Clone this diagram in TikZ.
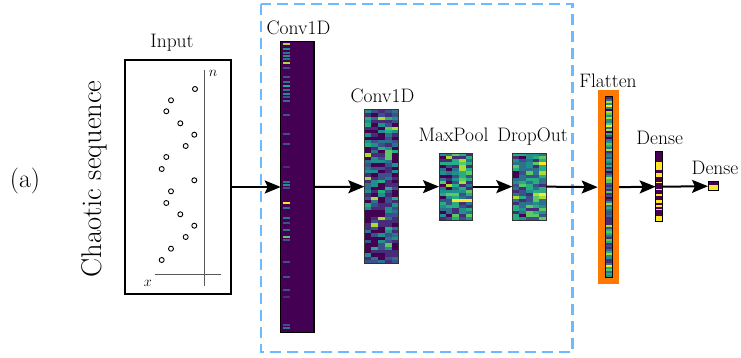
\documentclass[tikz,border=0pt]{standalone}
\usetikzlibrary{arrows.meta}
\definecolor{v0}{RGB}{68,1,84}
\definecolor{v1}{RGB}{71,44,122}
\definecolor{v2}{RGB}{59,81,139}
\definecolor{v3}{RGB}{44,113,142}
\definecolor{v4}{RGB}{33,144,141}
\definecolor{v5}{RGB}{39,173,129}
\definecolor{v6}{RGB}{92,200,99}
\definecolor{v7}{RGB}{170,220,50}
\definecolor{v8}{RGB}{253,231,37}
\definecolor{dashblue}{RGB}{110,185,255}
\definecolor{flatorange}{RGB}{255,120,0}
\newcommand\hmap[8]{%
  \pgfmathsetmacro\cw{#3/#5}\pgfmathsetmacro\rh{#4/#6}%
  \pgfmathtruncatemacro\nc{#5-1}\pgfmathtruncatemacro\nr{#6-1}%
  \foreach \i in {0,...,\nc}{\foreach \j in {0,...,\nr}{%
    \pgfmathrandominteger{\k}{0}{15}%
    \pgfmathtruncatemacro\ci{min(8,{#7}[\k]+{#8}[\i])}%
    \fill[v\ci] ({#1+\i*\cw},{#2+\j*\rh}) rectangle ++(\cw,\rh);
  }}}
\begin{document}
\begin{tikzpicture}[x=1pt,y=-1pt,
  lbl/.style={font=\fontsize{19.5}{22}\selectfont,anchor=base,inner sep=0pt},
  layer/.style={draw=black!80,line width=1pt,inner sep=0pt,outer sep=0pt},
  conn/.style={line width=2pt,-{Stealth[length=16pt,width=13pt,inset=3pt]}},
  dot/.style={draw,line width=0.9pt,fill=white}]
\useasboundingbox (0,0) rectangle (741,358);
\pgfmathsetseed{12}
% labels
\node[font=\fontsize{26}{28}\selectfont] (alab) at (25,181) {(a)};
\node[font=\fontsize{28.5}{30}\selectfont,rotate=90] (chaos) at (94,179) {Chaotic sequence};
% input box
\node[draw,line width=1.2pt,minimum width=106pt,minimum height=234pt,inner sep=0pt,outer sep=0pt] (inp) at (178,177) {};
\node[lbl] (inlbl) at (172,48) {Input};
\coordinate (vt) at (204,70); \coordinate (vb) at (204,286);
\coordinate (hl) at (155,274); \coordinate (hr) at (221,274);
\draw[black!65,line width=1pt] (vt) -- (vb);
\draw[black!65,line width=1pt] (hl) -- (hr);
\node[font=\fontsize{13.5}{15}\selectfont,inner sep=0pt] (nlab) at (213,73) {$n$};
\node[font=\fontsize{13.5}{15}\selectfont,inner sep=0pt] (xlab) at (148,283) {$x$};
\foreach \px/\py [count=\n] in {195/89,171/100.3,166.3/111.3,180.3/123.3,194.3/134.7,185.7/146,166.3/157,161.7/169,194.3/180.3,171/191.3,166.3/203,180.3/214.3,194.3/225.7,185.7/237,171/248.7,161.7/260}
  \node[circle,dot,minimum size=5pt,inner sep=0pt] (d\n) at (\px,\py) {};
% dashed box
\draw[dashblue,line width=2.8pt,dash pattern=on 11pt off 6pt] (261,4) rectangle (572.5,352);
% conv1d big
\fill[v0] (280.7,41.7) rectangle (314,332.3);
\foreach \yy/\cc in {44/7,49/4,53/3,56/4,59/3,63/7,68/2,77/2,82/3,86/5,90/3,94/4,97/2,101/3,115/2,134/2,144/2,167/1,182/3,185/4,188/2,203/8,208/3,218/3,223/2,230/3,237/6,240/2,262/2,277/2,290/2,297/1,325/2,328/3}
  \fill[v\cc] (282.5,\yy-0.8) rectangle (289.5,\yy+0.8);
\node[layer,draw=black,line width=1.2pt,minimum width=33.3pt,minimum height=290.6pt] (c1) at (297.35,187) {};
\node[lbl] (c1lbl) at (298.5,35) {Conv1D};
% conv1d 2
\hmap{364.3}{110}{34}{153.3}{5}{46}{0,0,0,0,0,1,1,1,2,2,3,3,4,4,5,7}{0,0,0,1,0}
\node[layer,minimum width=34pt,minimum height=153.3pt] (c2) at (381.3,186.65) {};
\node[lbl] (c2lbl) at (382.5,103) {Conv1D};
% maxpool
\hmap{439}{153.3}{33.7}{66.7}{5}{22}{0,0,1,1,2,2,3,3,3,4,4,4,5,5,6,7}{0,0,1,1,1}
\node[layer,minimum width=33.7pt,minimum height=66.7pt] (mp) at (455.85,186.65) {};
\node[lbl] (mplbl) at (453.5,141.5) {MaxPool};
% dropout
\hmap{512.3}{153.3}{33.7}{66.7}{5}{22}{0,0,1,1,2,2,3,3,3,4,4,4,5,5,6,7}{0,0,1,1,1}
\node[layer,minimum width=33.7pt,minimum height=66.7pt] (do) at (529.15,186.65) {};
\node[lbl] (dolbl) at (532.5,141.5) {DropOut};
% flatten
\node[fill=flatorange,inner sep=0pt,outer sep=0pt,minimum width=21.3pt,minimum height=194.3pt] (fl) at (608.35,187.15) {};
\hmap{605}{96.7}{7}{180.6}{1}{90}{0,1,1,2,2,3,3,3,4,4,4,5,5,6,7,8}{0}
\node[layer,draw=black,minimum width=7pt,minimum height=180.6pt] (fls) at (608.5,187) {};
\node[lbl] (fllbl) at (608,88) {Flatten};
% dense 1
\fill[v0] (655.7,151.7) rectangle (662.7,221.7);
\foreach \ya/\yb in {161.7/170,173.3/176.7,181.7/183.3,189/190.5,194.5/196.5,200/202.7,205/206.7,208.5/210,216/220.7}
  \fill[v8] (655.7,\ya) rectangle (662.7,\yb);
\node[layer,draw=black,minimum width=7pt,minimum height=70pt] (dn1) at (659.2,186.7) {};
\node[lbl] (dn1lbl) at (659.7,145) {Dense};
% dense 2
\fill[v0] (708,181.7) rectangle (718.7,185);
\fill[v8] (708,185) rectangle (718.7,190.7);
\node[layer,draw=black,minimum width=10.7pt,minimum height=9pt] (dn2) at (713.35,186.2) {};
\node[lbl] (dn2lbl) at (715,175) {Dense};
% connectors
\draw[conn] (inp.east |- c1.west) -- (c1.west);
\draw[conn] (c1.east) -- (c2.west);
\draw[conn] (c2.east) -- (mp.west);
\draw[conn] (mp.east) -- (do.west);
\draw[conn] (do.east) -- (fl.west);
\draw[conn] (fl.east) -- (dn1.west);
\draw[conn] (dn1.east) -- (dn2.west);
\end{tikzpicture}
\end{document}
